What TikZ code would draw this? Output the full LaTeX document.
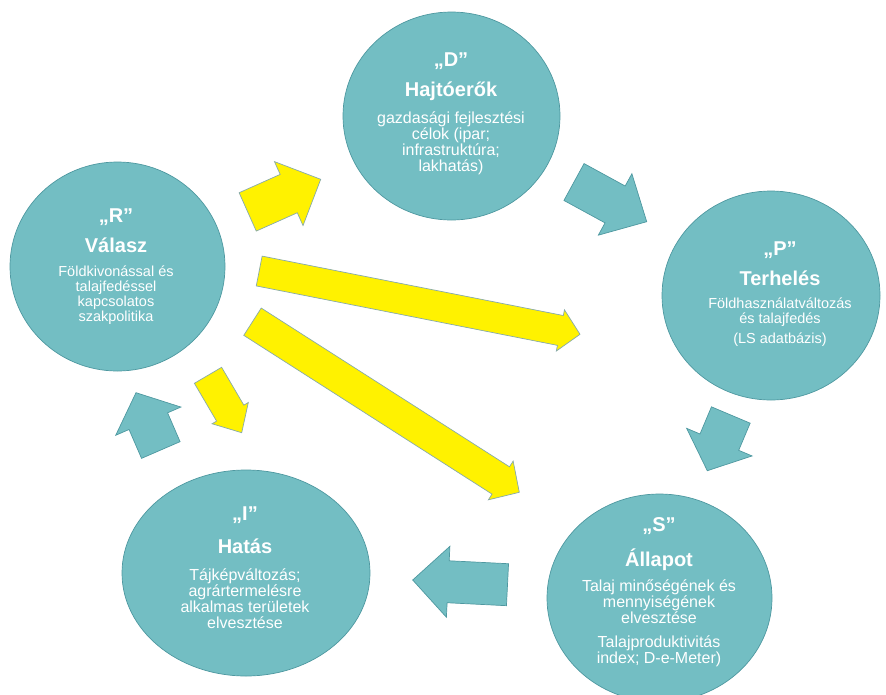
\documentclass[tikz,border=0pt]{standalone}
\usepackage{fontspec}
\setmainfont{Liberation Sans}
\usetikzlibrary{shapes.geometric,calc}
\definecolor{tealfill}{RGB}{115,190,195}
\definecolor{tealline}{RGB}{78,152,160}
\definecolor{yline}{RGB}{135,170,172}
\tikzset{
  ball/.style={ellipse, draw=tealline, fill=tealfill, line width=0.7pt, inner sep=0pt},
  qt/.style={text=white, inner sep=0pt, font=\fontsize{20}{22}\selectfont\bfseries},
  ttl/.style={text=white, inner sep=0pt, font=\fontsize{20}{22}\selectfont\bfseries},
  txt/.style={text=white, inner sep=0pt, align=center, font=\fontsize{16}{16}\selectfont},
  smalltxt/.style={txt, font=\fontsize{14.5}{15}\selectfont},
  tarrow/.style={draw=tealline, fill=tealfill, line width=0.7pt},
  yarrow/.style={draw=yline, fill=yellow, line width=0.7pt}
}
% block arrow: style, tail, tip, shaft half width, head half width, head length
\newcommand{\fatarrow}[6]{%
  \coordinate (fab) at ($(#3)!#6!(#2)$);
  \draw[#1] ($(#2)!#4!90:(#3)$) -- ($(fab)!#4!-90:(#2)$) -- ($(fab)!#5!-90:(#2)$) -- (#3)
    -- ($(fab)!#5!90:(#2)$) -- ($(fab)!#4!90:(#2)$) -- ($(#2)!#4!-90:(#3)$) -- cycle;}
\begin{document}
\begin{tikzpicture}[x=1pt,y=-1pt]
\useasboundingbox (0,0) rectangle (886,694);
%
\node[ball, minimum width=217pt, minimum height=208pt](drv) at (451.5,116) {};
\node[qt](drvq) at (451,61) {„D”};
\node[ttl](drvt) at (451,91) {Hajtóerők};
\node[txt](drvb) at (451,143) {gazdasági fejlesztési\\célok (ipar;\\infrastruktúra;\\lakhatás)};
%
\node[ball, minimum width=218pt, minimum height=209pt](prs) at (771,295.5) {};
\node[qt](prsq) at (780,250) {„P”};
\node[ttl](prst) at (780,278) {Terhelés};
\node[smalltxt](prsb) at (780,322.5) {Földhasználatváltozás\\és talajfedés\\[5pt](LS adatbázis)};
%
\node[ball, minimum width=225pt, minimum height=208pt](stt) at (659.5,598) {};
\node[qt](sttq) at (659,526.5) {„S”};
\node[ttl](sttt) at (659,560) {Állapot};
\node[txt](sttb) at (659,623) {Talaj minőségének és\\mennyiségének\\elvesztése\\[8pt]Talajproduktivitás\\index; D-e-Meter)};
%
\node[ball, minimum width=248pt, minimum height=206pt](imp) at (246,573) {};
\node[qt](impq) at (245,515.5) {„I”};
\node[ttl](impt) at (245,546.5) {Hatás};
\node[txt](impb) at (245,598.5) {Tájképváltozás;\\agrártermelésre\\alkalmas területek\\elvesztése};
%
\node[ball, minimum width=215pt, minimum height=209pt](rsp) at (117.5,266.5) {};
\node[qt](rspq) at (116,217) {„R”};
\node[ttl](rspt) at (116,245.5) {Válasz};
\node[smalltxt](rspb) at (116,295) {Földkivonással és\\talajfedéssel\\kapcsolatos\\szakpolitika};
%
\coordinate(dpt) at (574,182);
\coordinate(dph) at (646.7,221.7);
\fatarrow{tarrow}{dpt}{dph}{21pt}{35pt}{36pt}
%
\coordinate(pst) at (730.8,415);
\coordinate(psh) at (707.3,470.7);
\fatarrow{tarrow}{pst}{psh}{21pt}{35.5pt}{31pt}
%
\coordinate(sit) at (507.5,584.7);
\coordinate(sih) at (412.7,580);
\fatarrow{tarrow}{sit}{sih}{21pt}{35.5pt}{35.5pt}
%
\coordinate(irt) at (160.8,450);
\coordinate(irh) at (136,392.7);
\fatarrow{tarrow}{irt}{irh}{21pt}{35.5pt}{31pt}
%
\coordinate(rdt) at (247.7,211.9);
\coordinate(rdh) at (320.7,179.3);
\fatarrow{yarrow}{rdt}{rdh}{21pt}{35pt}{35pt}
%
\coordinate(rpt) at (259.2,271);
\coordinate(rph) at (580,334.3);
\fatarrow{yarrow}{rpt}{rph}{15.2pt}{21pt}{20pt}
%
\coordinate(rst) at (252.5,321.7);
\coordinate(rsh) at (519.3,492.3);
\fatarrow{yarrow}{rst}{rsh}{16.2pt}{23pt}{22pt}
%
\coordinate(rit) at (208,375.3);
\coordinate(rih) at (241.7,432.7);
\fatarrow{yarrow}{rit}{rih}{15.8pt}{21pt}{22.7pt}
\end{tikzpicture}
\end{document}
